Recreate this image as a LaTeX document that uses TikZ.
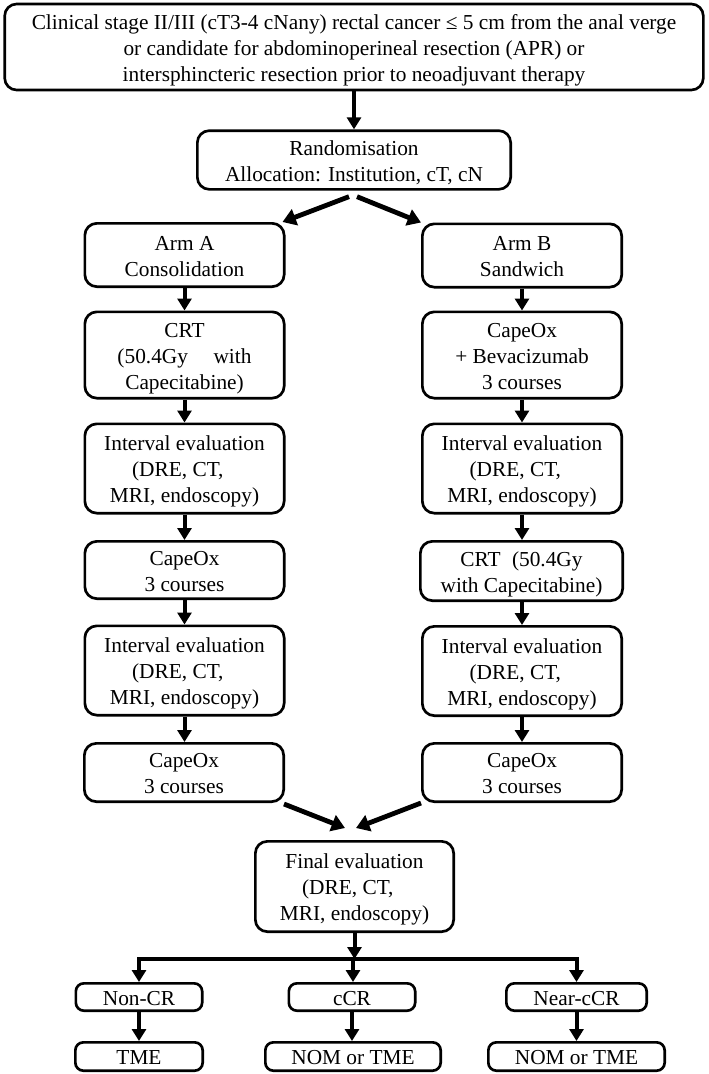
\documentclass[tikz,border=0pt]{standalone}
\usepackage{fontspec}
\setmainfont{Liberation Serif}
\usetikzlibrary{arrows.meta,calc}
\newcommand\bxtext[1]{\raisebox{-2.4pt}[\height][\depth]{\begin{tabular}{@{}c@{}}#1\end{tabular}}}
\begin{document}
\begin{tikzpicture}[x=0.75pt,y=-0.75pt,
  box/.style={draw, line width=2pt, rounded corners=9pt, inner sep=0pt,
    font=\fontsize{16}{19.5}\selectfont, minimum width=149.5pt},
  smallbox/.style={box, rounded corners=6pt},
  varrow/.style={line width=3pt, -{Triangle[length=9pt,width=10.5pt]}},
  darrow/.style={line width=3.6pt, -{Triangle[length=10pt,width=12.5pt]}}
]
\useasboundingbox (0,0) rectangle (708,1074);

\node[box, minimum width=524pt, minimum height=64.5pt] (top) at (354,47)
  {\bxtext{Clinical stage II/III (cT3-4 cNany) rectal cancer ≤ 5 cm from the anal verge\\
   or candidate for abdominoperineal resection (APR) or\\
   intersphincteric resection prior to neoadjuvant therapy}};
\node[box, minimum width=235pt, minimum height=44pt] (rand) at (354,160)
  {\bxtext{Randomisation\\Allocation: Institution, cT, cN}};

\node[box, minimum height=47.5pt] (armA) at (184.5,255) {\bxtext{Arm A\\Consolidation}};
\node[box, minimum height=47.5pt] (armB) at (522,255.5) {\bxtext{Arm B\\Sandwich}};

\node[box, minimum height=64.75pt] (crtA) at (184.5,355) {\bxtext{CRT\\(50.4Gy\hspace{1.2em}with\\Capecitabine)}};
\node[box, minimum height=64.75pt] (capeB) at (522,355) {\bxtext{CapeOx\\+ Bevacizumab\\3 courses}};

\node[box, minimum height=67pt] (intA1) at (184.5,468.5)
  {\bxtext{Interval evaluation\\(DRE, CT,\hbox to 10pt{}\\MRI, endoscopy)}};
\node[box, minimum height=67pt] (intB1) at (522,468.5)
  {\bxtext{Interval evaluation\\(DRE, CT,\hbox to 10pt{}\\MRI, endoscopy)}};

\node[box, minimum height=43pt] (capeA1) at (184.5,570) {\bxtext{CapeOx\\3 courses}};
\node[box, minimum width=151.75pt, minimum height=44.5pt] (crtB) at (521.5,571)
  {\bxtext{CRT\hspace{8.5pt}(50.4Gy\\with Capecitabine)}};

\node[box, minimum height=67pt] (intA2) at (184.5,670.5)
  {\bxtext{Interval evaluation\\(DRE, CT,\hbox to 10pt{}\\MRI, endoscopy)}};
\node[box, minimum height=67pt] (intB2) at (522,671)
  {\bxtext{Interval evaluation\\(DRE, CT,\hbox to 10pt{}\\MRI, endoscopy)}};

\node[box, minimum height=43.75pt] (capeA2) at (184,772.5) {\bxtext{CapeOx\\3 courses}};
\node[box, minimum height=43.75pt] (capeB2) at (522,772.5) {\bxtext{CapeOx\\3 courses}};

\node[box, minimum width=148.75pt, minimum height=67.75pt] (final) at (354.5,886.5)
  {\bxtext{Final evaluation\\(DRE, CT,\hbox to 10pt{}\\MRI, endoscopy)}};

\node[smallbox, minimum width=94.75pt, minimum height=20.5pt] (noncr) at (139,997) {\bxtext{Non-CR}};
\node[smallbox, minimum width=94.75pt, minimum height=20.5pt] (ccr) at (352,997) {\bxtext{cCR}};
\node[smallbox, minimum width=105.25pt, minimum height=20.5pt] (near) at (576.5,997) {\bxtext{Near-cCR}};
\node[smallbox, minimum width=95.5pt, minimum height=21.25pt] (tme) at (139,1056.5) {\bxtext{TME}};
\node[smallbox, minimum width=131.5pt, minimum height=21.25pt] (nom1) at (353,1056.5) {\bxtext{NOM or TME}};
\node[smallbox, minimum width=132.25pt, minimum height=21.25pt] (nom2) at (576.5,1056.5) {\bxtext{NOM or TME}};

% connectors
\draw[varrow] (top.south) -- (top.south |- rand.north);

\coordinate (rL) at ($(rand.south)+(-5,6)$);
\coordinate (rR) at ($(rand.south)+(3,6)$);
\coordinate (aL) at ($(armA.north east)+(-3,0)$);
\coordinate (aR) at ($(armB.north west)+(0,0)$);
\draw[darrow] (rL) -- (aL);
\draw[darrow] (rR) -- (aR);

\draw[varrow] (armA.south) -- (armA.south |- crtA.north);
\draw[varrow] (crtA.south) -- (crtA.south |- intA1.north);
\draw[varrow] (intA1.south) -- (intA1.south |- capeA1.north);
\draw[varrow] (capeA1.south) -- (capeA1.south |- intA2.north);
\draw[varrow] (intA2.south) -- (intA2.south |- capeA2.north);

\draw[varrow] (armB.south) -- (armB.south |- capeB.north);
\draw[varrow] (capeB.south) -- (capeB.south |- intB1.north);
\draw[varrow] (intB1.south) -- (intB1.south |- crtB.north);
\draw[varrow] (intB1.south |- crtB.south) -- (intB1.south |- intB2.north);
\draw[varrow] (intB2.south) -- (intB2.south |- capeB2.north);

\coordinate (cL) at ($(capeA2.south east)+(-1,1)$);
\coordinate (cR) at ($(capeB2.south west)+(0,0)$);
\coordinate (fL) at ($(final.north)+(-9.5,-12)$);
\coordinate (fR) at ($(final.north)+(1.5,-12)$);
\draw[darrow] (cL) -- (fL);
\draw[darrow] (cR) -- (fR);

\coordinate (jc) at (353,959);
\draw[varrow] (final.south) -- (final.south |- jc);
\draw[varrow] (jc) -| (noncr.north);
\draw[varrow] (jc) -| (near.north);
\draw[varrow] (jc) -- (jc |- ccr.north);

\draw[varrow] (noncr.south) -- (noncr.south |- tme.north);
\draw[varrow] (ccr.south) -- (ccr.south |- nom1.north);
\draw[varrow] (near.south) -- (near.south |- nom2.north);
\end{tikzpicture}
\end{document}
